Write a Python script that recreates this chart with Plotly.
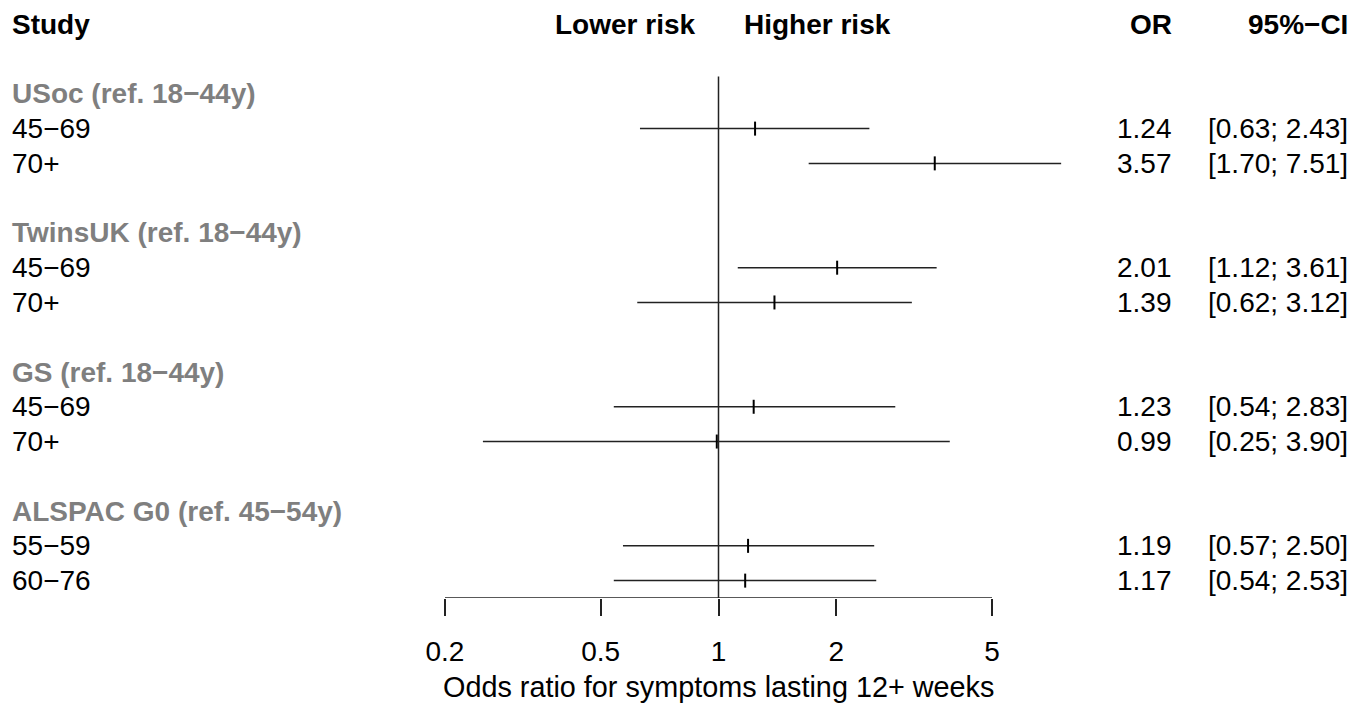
import numpy as np
import plotly.graph_objects as go

# ---------------- data ----------------
groups = ["USoc (ref. 18\u221244y)", "TwinsUK (ref. 18\u221244y)",
          "GS (ref. 18\u221244y)", "ALSPAC G0 (ref. 45\u221254y)"]
subgroups = [["45\u221269", "70+"], ["45\u221269", "70+"],
             ["45\u221269", "70+"], ["55\u221259", "60\u221276"]]
or_vals = [1.24, 3.57, 2.01, 1.39, 1.23, 0.99, 1.19, 1.17]
ci_low = [0.63, 1.70, 1.12, 0.62, 0.54, 0.25, 0.57, 0.54]
ci_high = [2.43, 7.51, 3.61, 3.12, 2.83, 3.90, 2.50, 2.53]
tick_vals = [0.2, 0.5, 1, 2, 5]
tick_text = ["0.2", "0.5", "1", "2", "5"]
x_title = "Odds ratio for symptoms lasting 12+ weeks"

# ---------------- layout constants ----------------
W, H = 1368, 704
FONT = "Liberation Sans, Arial, sans-serif"
FS = 28
LINE = "#222222"
GREY = "#7f7f7f"
px_per_dec = 391.3
x_one = 718.5
row_h = 34.77
plot_h = 598
y_bottom = 16.5
y_top = y_bottom - plot_h / row_h

X_LEFT = 10       # left text column (px, compensating annotation padding)
X_LOWER = 697     # right edge of "Lower risk"
X_HIGHER = 742    # left edge of "Higher risk"
X_OR = 1174       # right edge of OR column
X_CI = 1350       # right edge of CI column


def xp(px):
    return px / W


fig = go.Figure()
annotations = []
shapes = []

# header
annotations.append(dict(x=xp(X_LEFT), y=0, text="<b>Study</b>", xanchor="left"))
annotations.append(dict(x=xp(X_LOWER), y=0, text="<b>Lower risk</b>", xanchor="right"))
annotations.append(dict(x=xp(X_HIGHER), y=0, text="<b>Higher risk</b>", xanchor="left"))
annotations.append(dict(x=xp(X_OR), y=0, text="<b>OR</b>", xanchor="right"))
annotations.append(dict(x=xp(X_CI), y=0, text="<b>95%\u2212CI</b>", xanchor="right"))

k = 0
for g, name in enumerate(groups):
    hrow = 2 + 4 * g
    annotations.append(dict(x=xp(X_LEFT), y=hrow, text=f"<b>{name}</b>",
                            xanchor="left", font=dict(color=GREY, size=FS, family=FONT)))
    for j, lab in enumerate(subgroups[g]):
        r = hrow + 1 + j
        annotations.append(dict(x=xp(X_LEFT), y=r, text=lab, xanchor="left"))
        annotations.append(dict(x=xp(X_OR), y=r, text=f"{or_vals[k]:.2f}", xanchor="right"))
        annotations.append(dict(x=xp(X_CI), y=r,
                                text=f"[{ci_low[k]:.2f}; {ci_high[k]:.2f}]", xanchor="right"))
        fig.add_trace(go.Scatter(x=[ci_low[k], ci_high[k]], y=[r, r], mode="lines",
                                 line=dict(color=LINE, width=1.5), showlegend=False,
                                 hoverinfo="skip"))
        fig.add_trace(go.Scatter(x=[or_vals[k]], y=[r], mode="markers",
                                 marker=dict(symbol="line-ns-open", size=10, color="#000000",
                                             line=dict(color="#000000", width=2)),
                                 showlegend=False, hoverinfo="skip"))
        k += 1

for a in annotations:
    a.setdefault("font", dict(color="#000000", size=FS, family=FONT))
    a.update(xref="paper", yref="y", showarrow=False, yanchor="middle")

# x-axis title, centred on OR = 1
annotations.append(dict(x=0, xref="x", y=-(687 - plot_h) / plot_h, yref="paper",
                        text=x_title, showarrow=False, xanchor="center", yanchor="middle",
                        font=dict(size=28.8, family=FONT, color="#000000")))

# reference line at OR = 1
shapes.append(dict(type="line", xref="x", yref="y", x0=1, x1=1, y0=1.5, y1=y_bottom,
                   line=dict(color=LINE, width=1.5)))
# axis line from 0.2 to 5
shapes.append(dict(type="line", xref="x", yref="y", x0=tick_vals[0], x1=tick_vals[-1],
                   y0=y_bottom, y1=y_bottom, line=dict(color=LINE, width=1.5)))

fig.update_layout(
    width=W, height=H,
    margin=dict(l=0, r=0, t=0, b=H - plot_h, pad=0),
    paper_bgcolor="white", plot_bgcolor="white",
    font=dict(family=FONT, size=FS, color="#000000"),
    annotations=annotations, shapes=shapes,
    xaxis=dict(type="log",
               range=[-x_one / px_per_dec, (W - x_one) / px_per_dec],
               tickvals=tick_vals, ticktext=tick_text,
               ticks="outside", ticklen=17, tickwidth=1.5, tickcolor=LINE,
               ticklabelstandoff=11,
               showgrid=False, zeroline=False, showline=False,
               tickfont=dict(size=FS, family=FONT, color="#000000")),
    yaxis=dict(range=[y_bottom, y_top], showgrid=False, zeroline=False,
               showticklabels=False, showline=False, ticks=""),
)

fig.write_html("out.html", config={"displayModeBar": False},
               post_script="document.body.style.margin='0';document.body.style.padding='0';"
                           "document.documentElement.style.overflow='hidden';")
